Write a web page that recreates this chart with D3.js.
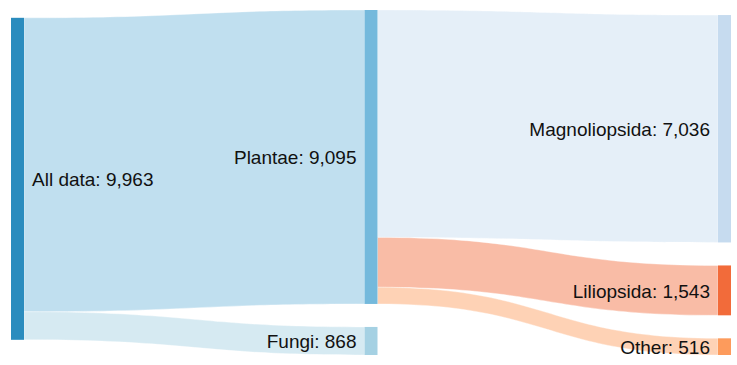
<!DOCTYPE html>
<html>
<head>
<meta charset="utf-8">
<script src="https://cdn.jsdelivr.net/npm/d3@7"></script>
<style>
  html, body { margin: 0; padding: 0; background: #fff; }
  svg { display: block; }
  text { font-family: "Liberation Sans", Arial, sans-serif; }
</style>
</head>
<body>
<svg id="chart" width="737" height="365"></svg>
<script>
// ---- data ----
const nodeNames = ["All data", "Plantae", "Fungi", "Magnoliopsida", "Liliopsida", "Other"];
const linkSources = ["All data", "All data", "Plantae", "Plantae", "Plantae"];
const linkTargets = ["Plantae", "Fungi", "Magnoliopsida", "Liliopsida", "Other"];
const linkValues = [9095, 868, 7036, 1543, 516];

// ---- styles ----
const nodeColors = ["#2b8cbe", "#74b9dc", "#a5d1e3", "#c6dbef", "#f26b3a", "#fd9b5c"];
const linkOpacity = 0.45;

const width = 737, height = 365;
const extent = [[11, 10], [731, 355]];
const nodeWidth = 13, nodePadding = 23, iterations = 1;

const color = d3.scaleOrdinal(nodeNames, nodeColors);

// ---- sankey layout (classic d3-sankey relaxation) ----
function sankeyLayout() {
  const [[x0, y0], [x1, y1]] = extent;
  const nodes = nodeNames.map((name, index) => ({name, index, sourceLinks: [], targetLinks: []}));
  const byName = new Map(nodes.map(n => [n.name, n]));
  const links = linkValues.map((value, index) => ({
    index, value, source: byName.get(linkSources[index]), target: byName.get(linkTargets[index])
  }));
  for (const l of links) { l.source.sourceLinks.push(l); l.target.targetLinks.push(l); }
  for (const n of nodes) n.value = Math.max(d3.sum(n.sourceLinks, d => d.value), d3.sum(n.targetLinks, d => d.value));
  let current = new Set(nodes), next = new Set(), depth = 0;
  while (current.size) {
    for (const n of current) { n.depth = depth; for (const {target} of n.sourceLinks) next.add(target); }
    ++depth; current = next; next = new Set();
  }
  const nCols = d3.max(nodes, d => d.depth) + 1;
  const kx = (x1 - x0 - nodeWidth) / (nCols - 1);
  const columns = Array.from({length: nCols}, () => []);
  for (const n of nodes) {
    n.layer = n.depth; n.x0 = x0 + n.layer * kx; n.x1 = n.x0 + nodeWidth;
    columns[n.layer].push(n);
  }
  const py = nodePadding;
  const ky = d3.min(columns, c => (y1 - y0 - (c.length - 1) * py) / d3.sum(c, d => d.value));
  for (const col of columns) col.forEach((n, i) => { n.y0 = i; n.y1 = i + n.value * ky; });
  for (const l of links) l.width = l.value * ky;
  const center = n => (n.y0 + n.y1) / 2;

  function resolveCollisions() {
    for (const col of columns) {
      col.sort((a, b) => a.y0 - b.y0);
      let y = y0, node, dy;
      for (node of col) {
        dy = y - node.y0;
        if (dy > 0) { node.y0 += dy; node.y1 += dy; }
        y = node.y1 + py;
      }
      dy = y - py - y1;
      if (dy > 0) {
        node = col[col.length - 1];
        node.y0 -= dy; node.y1 -= dy; y = node.y0;
        for (let i = col.length - 2; i >= 0; --i) {
          node = col[i];
          dy = node.y1 + py - y;
          if (dy > 0) { node.y0 -= dy; node.y1 -= dy; }
          y = node.y0;
        }
      }
    }
  }
  function relaxRightToLeft(alpha) {
    for (const col of columns.slice().reverse()) for (const n of col) {
      if (!n.sourceLinks.length) continue;
      const dy = (d3.sum(n.sourceLinks, l => center(l.target) * l.value) / d3.sum(n.sourceLinks, l => l.value) - center(n)) * alpha;
      n.y0 += dy; n.y1 += dy;
    }
  }
  function relaxLeftToRight(alpha) {
    for (const col of columns) for (const n of col) {
      if (!n.targetLinks.length) continue;
      const dy = (d3.sum(n.targetLinks, l => center(l.source) * l.value) / d3.sum(n.targetLinks, l => l.value) - center(n)) * alpha;
      n.y0 += dy; n.y1 += dy;
    }
  }
  resolveCollisions();
  for (let alpha = 1, it = iterations; it > 0; --it) {
    relaxRightToLeft(alpha *= 0.99);
    resolveCollisions();
    relaxLeftToRight(alpha);
    resolveCollisions();
  }
  for (const n of nodes) {
    n.sourceLinks.sort((a, b) => a.target.y0 - b.target.y0);
    n.targetLinks.sort((a, b) => a.source.y0 - b.source.y0);
  }
  for (const n of nodes) {
    let a = n.y0, b = n.y0;
    for (const l of n.sourceLinks) { l.y0 = a + l.width / 2; a += l.width; }
    for (const l of n.targetLinks) { l.y1 = b + l.width / 2; b += l.width; }
  }
  return {nodes, links};
}

const graph = sankeyLayout();
const fmt = d3.format(",");
const svg = d3.select("#chart");

function ribbon(l) {
  const sx = l.source.x1, tx = l.target.x0, mx = (sx + tx) / 2;
  const h = l.width / 2;
  const p = d3.path();
  p.moveTo(sx, l.y0 - h);
  p.bezierCurveTo(mx, l.y0 - h, mx, l.y1 - h, tx, l.y1 - h);
  p.lineTo(tx, l.y1 + h);
  p.bezierCurveTo(mx, l.y1 + h, mx, l.y0 + h, sx, l.y0 + h);
  p.closePath();
  return p.toString();
}

svg.append("g")
  .selectAll("path")
  .data(graph.links)
  .join("path")
  .attr("d", ribbon)
  .attr("fill", d => color(d.target.name))
  .attr("fill-opacity", linkOpacity)
  .attr("stroke", "#fff")
  .attr("stroke-opacity", 0.6)
  .attr("stroke-width", 0.6);

svg.append("g")
  .selectAll("rect")
  .data(graph.nodes)
  .join("rect")
  .attr("x", d => d.x0)
  .attr("y", d => d.y0)
  .attr("width", d => d.x1 - d.x0)
  .attr("height", d => d.y1 - d.y0)
  .attr("fill", d => color(d.name));

svg.append("g")
  .selectAll("text")
  .data(graph.nodes)
  .join("text")
  .attr("x", d => d.layer === 0 ? d.x1 + 8 : d.x0 - 8)
  .attr("y", d => (d.y0 + d.y1) / 2)
  .attr("dy", "0.38em")
  .attr("text-anchor", d => d.layer === 0 ? "start" : "end")
  .attr("font-size", 19)
  .attr("fill", "#111")
  .text(d => `${d.name}: ${fmt(d.value)}`);
</script>
</body>
</html>
